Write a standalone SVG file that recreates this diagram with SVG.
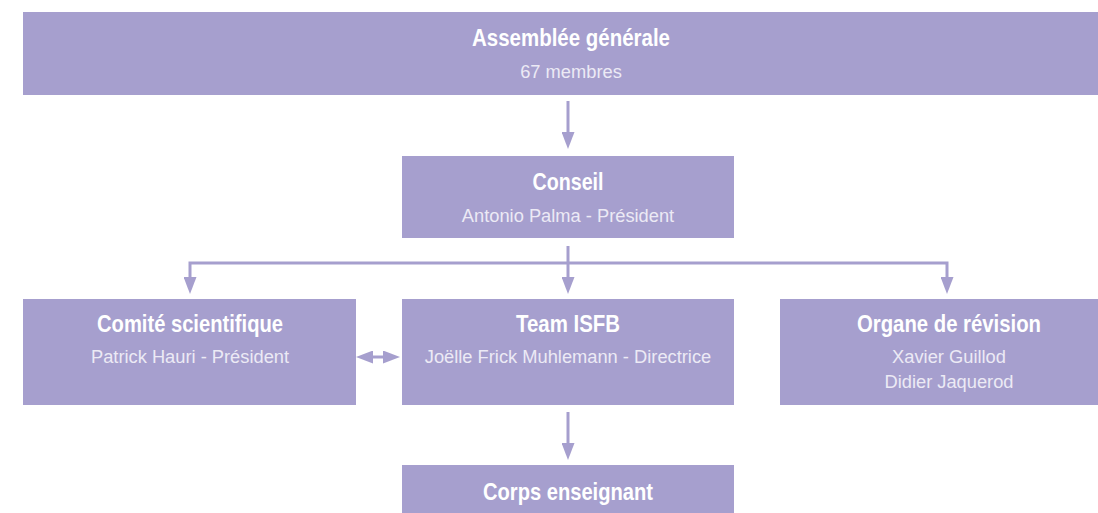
<svg xmlns="http://www.w3.org/2000/svg" width="1098" height="513" viewBox="0 0 1098 513">
  <defs>
    <style>
      .box { fill: #a69fce; }
      .title { font-family: "Liberation Sans", Arial, sans-serif; font-weight: bold; font-size: 24px; fill: #ffffff; text-anchor: middle; }
      .sub { font-family: "Liberation Sans", Arial, sans-serif; font-size: 18.3px; fill: #eceaf5; text-anchor: middle; }
      .conn { stroke: #a69fce; stroke-width: 3; fill: none; }
    </style>
    <marker id="arrow" viewBox="0 0 17 13" refX="9" refY="6.5" markerWidth="17" markerHeight="13" markerUnits="userSpaceOnUse" orient="auto-start-reverse">
      <path d="M0,0 L17,6.5 L0,13 Z" fill="#a69fce"/>
    </marker>
  </defs>
  <rect width="1098" height="513" fill="#ffffff"/>

  <g id="assemblee">
    <rect class="box" x="23" y="12" width="1075" height="83"/>
    <text class="title" x="571" y="46" textLength="198" lengthAdjust="spacingAndGlyphs">Assemblée générale</text>
    <text class="sub" x="571" y="78">67 membres</text>
  </g>

  <g id="conseil">
    <rect class="box" x="402" y="156" width="332" height="82"/>
    <text class="title" x="568" y="190" textLength="71" lengthAdjust="spacingAndGlyphs">Conseil</text>
    <text class="sub" x="568" y="222">Antonio Palma - Président</text>
  </g>

  <g id="comite">
    <rect class="box" x="23" y="299" width="333" height="106"/>
    <text class="title" x="190" y="332" textLength="186" lengthAdjust="spacingAndGlyphs">Comité scientifique</text>
    <text class="sub" x="190" y="363">Patrick Hauri - Président</text>
  </g>

  <g id="team">
    <rect class="box" x="402" y="299" width="332" height="106"/>
    <text class="title" x="568" y="332" textLength="104" lengthAdjust="spacingAndGlyphs">Team ISFB</text>
    <text class="sub" x="568" y="363">Joëlle Frick Muhlemann - Directrice</text>
  </g>

  <g id="organe">
    <rect class="box" x="780" y="299" width="318" height="106"/>
    <text class="title" x="949" y="332" textLength="184" lengthAdjust="spacingAndGlyphs">Organe de révision</text>
    <text class="sub" x="949" y="363">Xavier Guillod</text>
    <text class="sub" x="949" y="388">Didier Jaquerod</text>
  </g>

  <g id="corps">
    <rect class="box" x="402" y="465" width="332" height="48"/>
    <text class="title" x="568" y="500" textLength="170" lengthAdjust="spacingAndGlyphs">Corps enseignant</text>
  </g>

  <g id="connectors">
    <line class="conn" x1="568" y1="101" x2="568" y2="141" marker-end="url(#arrow)"/>
    <line class="conn" x1="568" y1="246" x2="568" y2="286" marker-end="url(#arrow)"/>
    <polyline class="conn" points="190,286 190,263 947,263 947,286" marker-start="url(#arrow)" marker-end="url(#arrow)"/>
    <line class="conn" x1="364" y1="357" x2="392" y2="357" marker-start="url(#arrow)" marker-end="url(#arrow)"/>
    <line class="conn" x1="568" y1="412" x2="568" y2="452" marker-end="url(#arrow)"/>
  </g>
</svg>
